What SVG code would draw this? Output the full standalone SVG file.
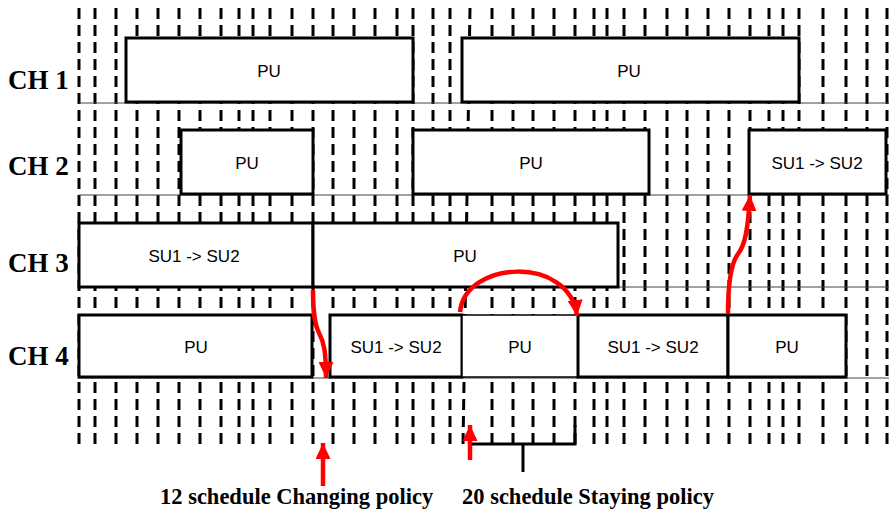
<svg xmlns="http://www.w3.org/2000/svg" width="889" height="511" viewBox="0 0 889 511">
<style>
.grid{stroke:#000;stroke-width:3;stroke-dasharray:11 6;fill:none}
.hl{stroke:#444;stroke-width:1.2;fill:none}
.box{fill:#fff;stroke:#000;stroke-width:3}
.thin{fill:#fff;stroke:#000;stroke-width:1.5}
.lbl{font-family:"Liberation Sans",Arial,sans-serif;font-size:17px;text-anchor:middle;fill:#000}
.ch{font-family:"Liberation Serif","Times New Roman",serif;font-weight:bold;font-size:27px;fill:#000}
.cap{font-family:"Liberation Serif","Times New Roman",serif;font-weight:bold;font-size:22.5px;fill:#000}
.red{stroke:#ff0000;stroke-width:4.5;fill:none;marker-end:url(#ah)}
</style>
<defs>
<marker id="ah" markerUnits="userSpaceOnUse" markerWidth="16" markerHeight="15" refX="16" refY="7.5" orient="auto" viewBox="0 0 16 15">
<path d="M0,0 L16,7.5 L0,15 z" fill="#ff0000"/>
</marker>
</defs>
<rect width="889" height="511" fill="#fff"/>
<g id="grid">
<path class="grid" d="M79,8V446 M95,8V446 M116,8V446 M137,8V446 M158,8V446 M179,8V446 M200,8V446 M221,8V446 M239,8V446 M253,8V446 M270,8V446 M292,8V446 M313,8V446 M333,8V446 M354,8V446 M375,8V446 M397,8V446 M413,8V446 M433,8V446 M450,8V446 M470,8L463,446 M492,8V446 M513,8V446 M533,8V446 M554,8V446 M575,8V446 M594,8V446 M607,8V446 M624,8V446 M645,8V446 M667,8V446 M687,8V446 M708,8V446 M729,8V446 M750,8V446 M769,8V446 M783,8V446 M799,8V446 M823,8V446 M846,8V446 M867,8V446 M887,8V446"/>
<path class="hl" d="M79,103H889 M79,195H889 M79,287H889 M79,378H889"/>
</g>
<g id="ch-labels">
<text class="ch" x="8" y="89">CH 1</text>
<text class="ch" x="8" y="175">CH 2</text>
<text class="ch" x="8" y="272">CH 3</text>
<text class="ch" x="8" y="365">CH 4</text>
</g>
<g id="ch1-pu1"><rect class="box" x="126" y="38" width="287" height="64"/><text class="lbl" x="269" y="77">PU</text></g>
<g id="ch1-pu2"><rect class="box" x="462" y="38" width="337" height="64"/><text class="lbl" x="629" y="77">PU</text></g>
<g id="ch2-pu1"><rect class="box" x="181" y="130" width="132" height="64"/><text class="lbl" x="247" y="169">PU</text></g>
<g id="ch2-pu2"><rect class="box" x="413" y="130" width="236" height="64"/><text class="lbl" x="531" y="169">PU</text></g>
<g id="ch2-su"><rect class="box" x="749" y="130" width="137" height="64"/><text class="lbl" x="817" y="169">SU1 -&gt; SU2</text></g>
<g id="ch3-su"><rect class="box" x="79" y="223" width="234" height="64"/><text class="lbl" x="194" y="262">SU1 -&gt; SU2</text></g>
<g id="ch3-pu"><rect class="box" x="313" y="223" width="305" height="64"/><text class="lbl" x="465" y="262">PU</text></g>
<g id="ch4-pu1"><rect class="box" x="79" y="315" width="233" height="62"/><text class="lbl" x="196" y="353">PU</text></g>
<g id="ch4-su1"><rect class="box" x="330" y="315" width="132" height="62"/><text class="lbl" x="396" y="353">SU1 -&gt; SU2</text></g>
<g id="ch4-pu2"><rect class="thin" x="462" y="315" width="116" height="62"/><text class="lbl" x="520" y="353">PU</text></g>
<g id="ch4-su2"><rect class="box" x="578" y="315" width="150" height="62"/><text class="lbl" x="653" y="353">SU1 -&gt; SU2</text></g>
<g id="ch4-pu3"><rect class="box" x="728" y="315" width="118" height="62"/><text class="lbl" x="787" y="353">PU</text></g>
<g id="connectors">
<path class="red" d="M313,290 C313,315 315,325 319,333 C324,342 326,352 326,378"/>
<path class="red" d="M460,312 C465,260 570,255 577,316"/>
<path class="red" d="M728,313 C728,280 732,262 738,254 C745,245 748,230 750,195"/>
<path class="red" d="M323,486 L323,443"/>
<path class="red" d="M470,460 L470,425"/>
<path d="M472,444 H575 V425 M523,444 V472" stroke="#000" stroke-width="3" fill="none"/>
</g>
<g id="captions">
<text class="cap" x="160" y="504">12 schedule Changing policy</text>
<text class="cap" x="462" y="504">20 schedule Staying policy</text>
</g>
</svg>
